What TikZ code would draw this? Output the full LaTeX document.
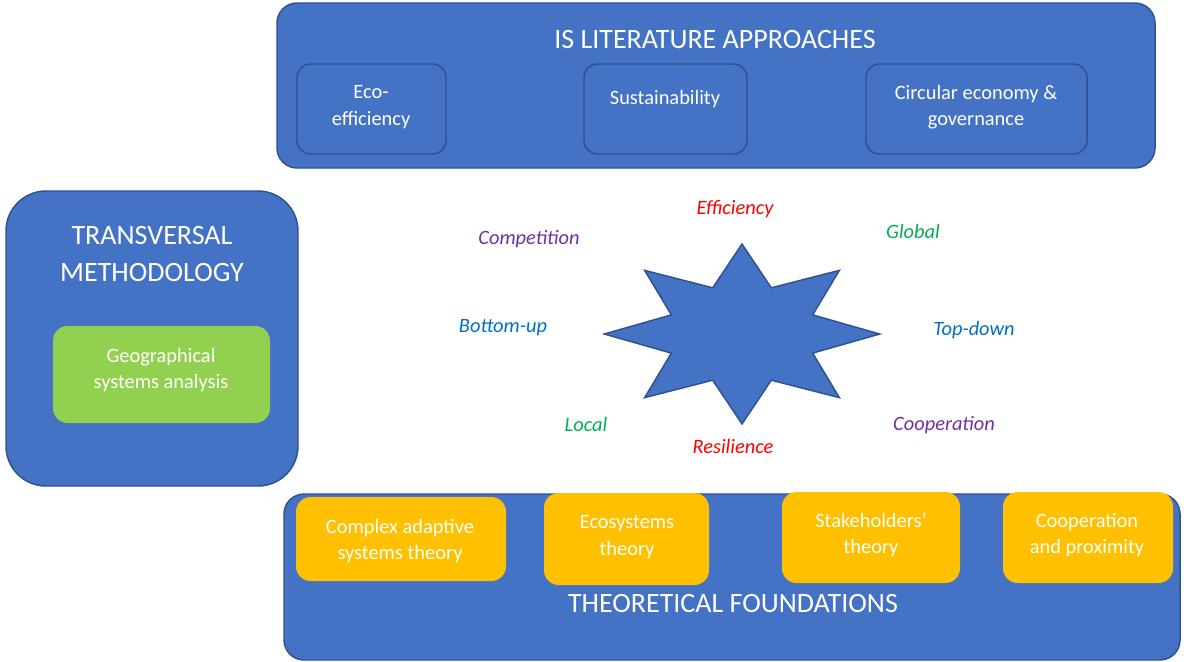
\documentclass[tikz,border=0pt]{standalone}
\usepackage{fontspec}
\setmainfont{Carlito}
\definecolor{boxblue}{HTML}{4472C4}
\definecolor{boxline}{HTML}{2F528F}
\definecolor{geogreen}{HTML}{92D050}
\definecolor{theorygold}{HTML}{FFC000}
\definecolor{tred}{HTML}{FF0000}
\definecolor{tgreen}{HTML}{00B050}
\definecolor{tpurple}{HTML}{7030A0}
\definecolor{tblue}{HTML}{0070C0}
\tikzset{
  panel/.style={draw=boxline, fill=boxblue, line width=1.1pt, rounded corners=15pt},
  subpanel/.style={draw=boxline, line width=1.1pt, rounded corners=10pt},
  geobox/.style={fill=geogreen, rounded corners=11pt},
  theory/.style={fill=theorygold, rounded corners=11pt},
  heading/.style={text=white, font=\fontsize{21}{28}\selectfont, align=center},
  boxtext/.style={text=white, font=\fontsize{15.3}{20}\selectfont, align=center},
  polelabel/.style={font=\itshape\fontsize{15.3}{18}\selectfont},
}
\begin{document}
\begin{tikzpicture}[x=0.75pt, y=-0.75pt]
    \useasboundingbox (0,0) rectangle (1184,661);

    % IS literature approaches
    \draw[panel] (277,3) rectangle (1155,168);
    \node[heading] (islit) at (715,40) {IS LITERATURE APPROACHES};
    \draw[subpanel] (297,64) rectangle (446,154);
    \draw[subpanel] (584,64) rectangle (747,154);
    \draw[subpanel] (866,64) rectangle (1087,154);
    \node[boxtext] (ecoeff) at (371,107) {Eco-\\efficiency};
    \node[boxtext] (sustain) at (665,99) {Sustainability};
    \node[boxtext] (circular) at (976,107) {Circular economy \&\\governance};

    % transversal methodology
    \draw[panel, rounded corners=30pt] (6,191) rectangle (298,486);
    \node[heading] (transv) at (152,254) {TRANSVERSAL\\METHODOLOGY};
    \fill[geobox] (53,326) rectangle (270,423);
    \node[boxtext] (geosys) at (161,370) {Geographical\\systems analysis};

    % theoretical foundations
    \draw[panel] (284,494) rectangle (1180,660);
    \node[heading] (theofound) at (733,604) {THEORETICAL FOUNDATIONS};
    \fill[theory] (296,497) rectangle (506,581);
    \fill[theory] (544,493) rectangle (709,585);
    \fill[theory] (782,492) rectangle (960,583);
    \fill[theory] (1003,492) rectangle (1173,583);
    \node[boxtext] (cas) at (400,541) {Complex adaptive\\systems theory};
    \node[boxtext] (ecosys) at (627,537) {Ecosystems\\theory};
    \node[boxtext] (stake) at (871,535) {Stakeholders’\\theory};
    \node[boxtext] (coop) at (1087,535) {Cooperation\\and proximity};

    % star and the poles round it
    \begin{scope}[shift={(742,334)}, xscale=1.53]
        \draw[fill=boxblue, draw=boxline, line width=1.1pt, line join=miter] (90:90)
            \foreach \i in {0,...,7} { -- ({112.5+45*\i}:50) -- ({135+45*\i}:90) } -- cycle;
    \end{scope}
    \node[polelabel, text=tred] (effic) at (735,209) {Efficiency};
    \node[polelabel, text=tgreen] (global) at (913,231) {Global};
    \node[polelabel, text=tpurple] (compet) at (529,239) {Competition};
    \node[polelabel, text=tblue] (bottomup) at (503,328) {Bottom-up};
    \node[polelabel, text=tblue] (topdown) at (974,330) {Top-down};
    \node[polelabel, text=tgreen] (local) at (586,424) {Local};
    \node[polelabel, text=tred] (resil) at (733,446) {Resilience};
    \node[polelabel, text=tpurple] (cooper) at (944,425) {Cooperation};
\end{tikzpicture}
\end{document}
